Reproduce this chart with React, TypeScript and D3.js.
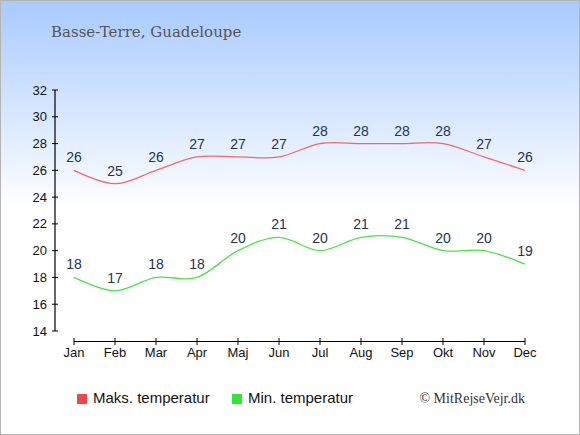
import React from "react";
import * as d3 from "d3";

const months = ["Jan", "Feb", "Mar", "Apr", "Maj", "Jun", "Jul", "Aug", "Sep", "Okt", "Nov", "Dec"];
const maxTemps = [26, 25, 26, 27, 27, 27, 28, 28, 28, 28, 27, 26];
const minTemps = [18, 17, 18, 18, 20, 21, 20, 21, 21, 20, 20, 19];
const yTicks = [14, 16, 18, 20, 22, 24, 26, 28, 30, 32];

const W = 580;
const H = 435;

export default function App() {
  const x = d3.scalePoint<string>().domain(months).range([74, 525]);
  const y = d3.scaleLinear().domain([14, 32]).range([331, 90]);

  const line = d3
    .line<number>()
    .x((_, i) => x(months[i]) as number)
    .y((d) => y(d))
    .curve(d3.curveCardinal);

  const series = [
    { values: maxTemps, color: "#f06a6a" },
    { values: minTemps, color: "#4fe04f" },
  ];

  return (
    <div style={{ position: "absolute", left: 0, top: 0 }}>
      <svg width={W} height={H} style={{ display: "block" }}>
        <defs>
          <linearGradient id="bg" x1="0" y1="0" x2="0" y2="1">
            <stop offset="0" stopColor="#a8caff" />
            <stop offset="0.48" stopColor="#ffffff" />
            <stop offset="1" stopColor="#ffffff" />
          </linearGradient>
        </defs>
        <rect x={0.5} y={0.5} width={W - 1} height={H - 1} fill="url(#bg)" stroke="#b4b4b4" strokeWidth={1} />

        <text x={51} y={37} fill="#555555" fontSize={15} fontFamily="'DejaVu Serif', serif">
          Basse-Terre, Guadeloupe
        </text>

        {/* y axis */}
        <line x1={55} y1={y(32)} x2={55} y2={y(14)} stroke="#000" strokeWidth={1.2} />
        {yTicks.map((t) => (
          <g key={t}>
            <line x1={52} x2={58} y1={y(t)} y2={y(t)} stroke="#000" strokeWidth={1} />
            <text
              x={47}
              y={y(t) + 4.5}
              textAnchor="end"
              fontSize={13}
              fontFamily="'Liberation Sans', Arial, sans-serif"
              fill="#111"
            >
              {t}
            </text>
          </g>
        ))}

        {/* x axis */}
        <line x1={x("Jan")} x2={x("Dec")} y1={341.5} y2={341.5} stroke="#000" strokeWidth={1.2} />
        {months.map((m) => (
          <g key={m}>
            <line x1={x(m)} x2={x(m)} y1={338} y2={345} stroke="#000" strokeWidth={1} />
            <text
              x={x(m)}
              y={357}
              textAnchor="middle"
              fontSize={13}
              fontFamily="'Liberation Sans', Arial, sans-serif"
              fill="#111"
            >
              {m}
            </text>
          </g>
        ))}

        {series.map((s, si) => (
          <g key={si}>
            <path d={line(s.values) || ""} fill="none" stroke={s.color} strokeWidth={1.3} />
            {s.values.map((v, i) => (
              <text
                key={i}
                x={x(months[i])}
                y={y(v) - 8}
                textAnchor="middle"
                fontSize={14}
                fontFamily="'Liberation Sans', Arial, sans-serif"
                fill="#23344f"
              >
                {v}
              </text>
            ))}
          </g>
        ))}

        {/* legend */}
        <rect x={77} y={394} width={10} height={10} fill="#f04848" />
        <text x={93} y={403} fontSize={15} fontFamily="'Liberation Sans', Arial, sans-serif" fill="#111">
          Maks. temperatur
        </text>
        <rect x={232} y={394} width={10} height={10} fill="#33e633" />
        <text x={248} y={403} fontSize={15} fontFamily="'Liberation Sans', Arial, sans-serif" fill="#111">
          Min. temperatur
        </text>
        <text x={525} y={403} textAnchor="end" fontSize={14} fontFamily="'Liberation Serif', serif" fill="#333">
          © MitRejseVejr.dk
        </text>
      </svg>
    </div>
  );
}
